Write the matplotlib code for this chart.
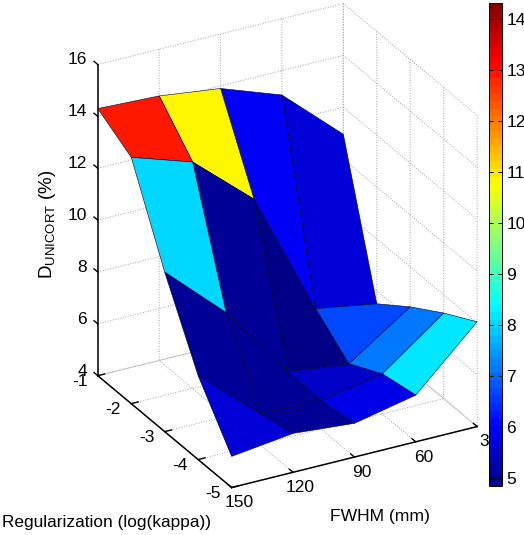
import matplotlib
matplotlib.use('Agg')
import matplotlib.pyplot as plt
from matplotlib.colors import ListedColormap
from matplotlib.transforms import ScaledTranslation
import numpy as np

plt.rcParams['font.family'] = ['Liberation Sans', 'DejaVu Sans']
plt.rcParams['mathtext.default'] = 'regular'
plt.rcParams['axes.unicode_minus'] = False
plt.rcParams['grid.color'] = '#a0a0a0'
plt.rcParams['grid.linestyle'] = ':'
plt.rcParams['grid.linewidth'] = 0.7

fwhm = [150, 120, 90, 60, 30]
kappa = [-1, -2, -3, -4, -5]

# rows follow kappa, columns follow fwhm
d_rows = [
    [14.3, 14.2, 13.9, 13.06, 10.96],
    [13.5, 12.73, 10.71, 5.9, 5.5],
    [10.15, 8.0, 5.13, 4.85, 6.46],
    [7.23, 5.2, 5.1, 5.54, 7.3],
    [5.2, 5.5, 5.3, 5.8, 8.04],
]

# flat colour value of each patch
face_vals = [
    [12.85, 10.76, 5.95, 5.65],
    [7.97, 5.1, 4.84, 6.66],
    [5.0, 5.1, 5.45, 7.2],
    [5.65, 5.08, 5.85, 8.1],
]

z_ticks = [4, 6, 8, 10, 12, 14, 16]
cbar_ticks = [5, 6, 7, 8, 9, 10, 11, 12, 13, 14]
c_min, c_max = 4.84, 14.31

fig_w, fig_h = 524, 535
fig = plt.figure(figsize=(fig_w / 100, fig_h / 100), dpi=100)
ax = fig.add_axes([68.2 / fig_w, 70.2 / fig_h, 427 / fig_w, 427 / fig_h],
                  projection='3d', proj_type='ortho')
ax.patch.set_alpha(0)
ax.view_init(elev=27.1, azim=-118.6)
ax.set_box_aspect((1, 1, 1.25), zoom=1.2)

# same jet as matlab, mpl's own is a bit different around yellow
t = (np.arange(64) + 0.5) / 64
jet = ListedColormap(np.clip(np.c_[1.5 - abs(4 * t - 3),
                                   1.5 - abs(4 * t - 2),
                                   1.5 - abs(4 * t - 1)], 0, 1))
norm = plt.Normalize(c_min, c_max)
X, Y = np.meshgrid(fwhm, kappa)
ax.plot_surface(X, Y, np.array(d_rows), rstride=1, cstride=1,
                facecolors=jet(norm(np.array(face_vals))), shade=False,
                edgecolor='#000028', linewidth=0.4, antialiased=True)

ax.set_xlim(150, 30, view_margin=0)
ax.set_ylim(-5, -1, view_margin=0)
ax.set_zlim(4, 16, view_margin=0)
ax.set_xticks(fwhm)
ax.set_yticks(kappa)
ax.set_zticks(z_ticks)
ax.tick_params(labelsize=12.5, colors='black')
ax.tick_params(axis='x', pad=1)
ax.tick_params(axis='y', pad=0)
ax.tick_params(axis='z', pad=2)

for axis in (ax.xaxis, ax.yaxis, ax.zaxis):
    axis.set_pane_color((1, 1, 1, 1))
    axis.pane.set_edgecolor('none')
    axis.line.set_color('black')
    axis.line.set_linewidth(1.1)
    axis._axinfo['tick']['inward_factor'] = 0
    axis._axinfo['tick']['outward_factor'] = 0.35
    axis._axinfo['tick']['linewidth'] = {True: 1.0, False: 0.5}
# z ticks point along the kappa direction in the original
ax.zaxis._get_tickdir = lambda position: 1


def shift_labels(labels, dx, dy):
    # dx, dy in pixels. Axis3D resets set_transform on each draw, so go
    # through get_transform on the label itself
    off = ScaledTranslation(dx / 100, dy / 100, fig.dpi_scale_trans)
    for lab in labels:
        lab.get_transform = lambda o=off: ax.transData + o


x_labels = ax.get_xticklabels()
shift_labels(x_labels[:-1], 0, 16)
shift_labels(x_labels[-1:], 4, 16)
shift_labels(ax.get_yticklabels(), -6, 20)
for lab in ax.get_zticklabels():
    lab.set_ha('right')
shift_labels(ax.get_zticklabels(), 13, 9)

fig.text(48 / fig_w, 1 - 224 / fig_h, 'D$_{UNICORT}$ (%)', rotation=90,
         fontsize=13.5, ha='center', va='center')
fig.text(2 / fig_w, 1 - 523 / fig_h, 'Regularization (log(kappa))',
         fontsize=12.4, ha='left', va='center')
fig.text(380 / fig_w, 1 - 517 / fig_h, 'FWHM (mm)',
         fontsize=12.6, ha='center', va='center')

cax = fig.add_axes([489 / fig_w, 1 - 486 / fig_h, 13 / fig_w, 483 / fig_h])
sm = plt.cm.ScalarMappable(norm=norm, cmap=jet)
cbar = fig.colorbar(sm, cax=cax, ticks=cbar_ticks, drawedges=False)
cbar.ax.tick_params(labelsize=12.5, direction='in', length=3, width=0.7,
                    left=True, right=True, pad=3)
cbar.outline.set_linewidth(0.7)

fig.savefig('out.png', dpi=100)
